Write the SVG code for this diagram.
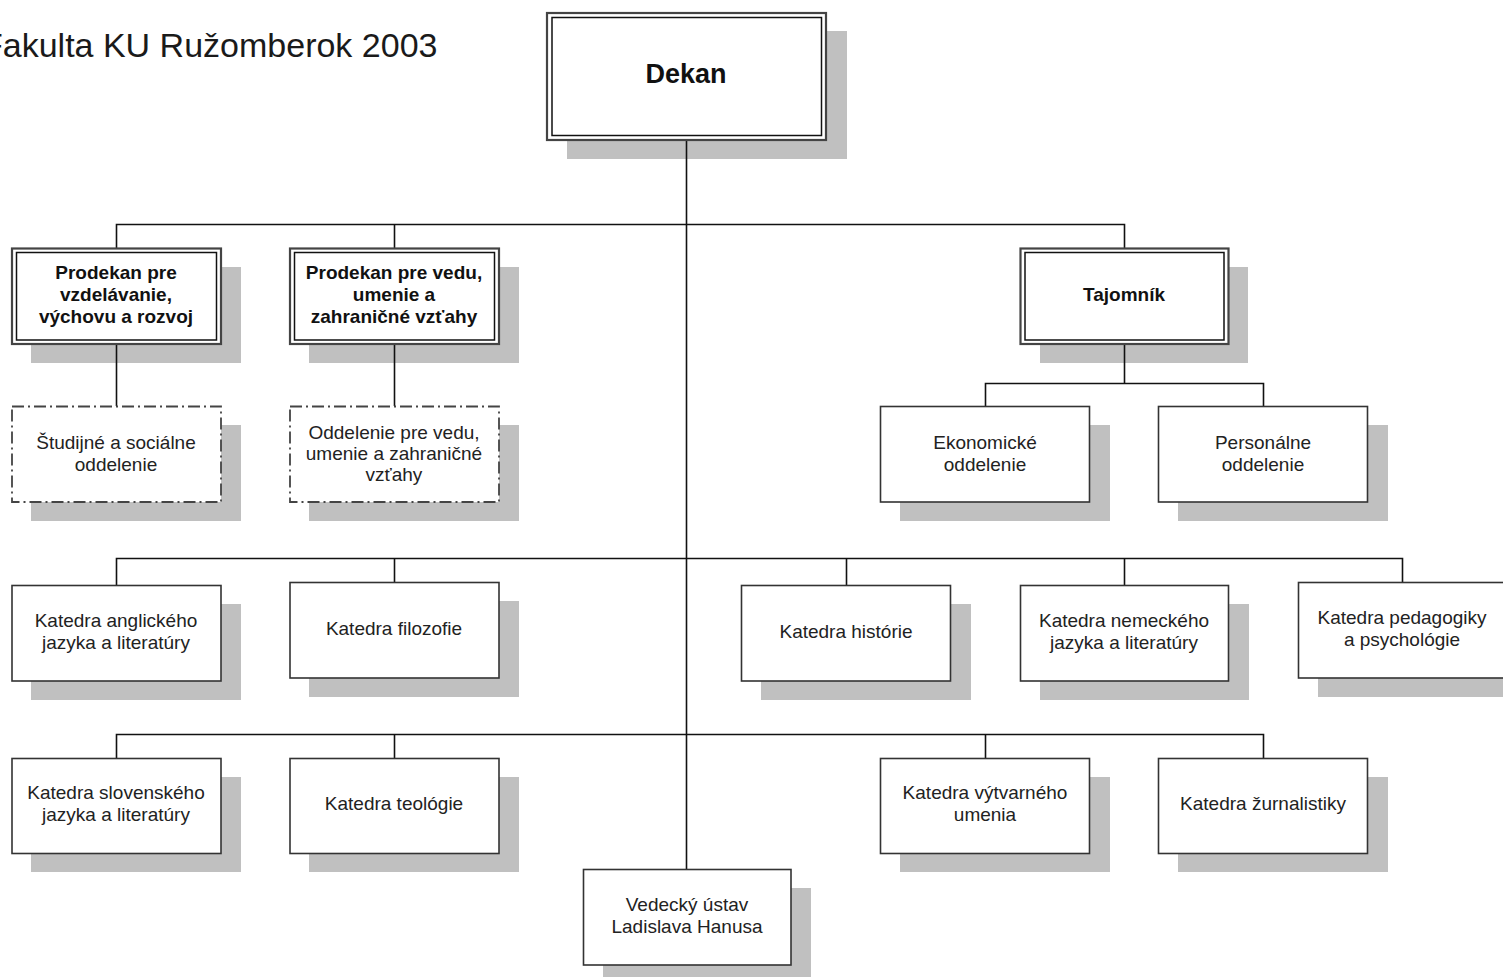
<svg xmlns="http://www.w3.org/2000/svg" width="1503" height="977" viewBox="0 0 1503 977">
<style>
.bg{fill:#ffffff}
.sh{fill:#c0c0c0}
.box{fill:#ffffff;stroke:#333333;stroke-width:1.6}
.outer{fill:#ffffff;stroke:#444444;stroke-width:2.2}
.inner{fill:none;stroke:#111111;stroke-width:1.5}
.dash{fill:#ffffff;stroke:#444444;stroke-width:1.8;stroke-dasharray:12,4,2,4}
.t{font-family:"Liberation Sans",Arial,sans-serif;font-size:19px;fill:#222222;text-anchor:middle}
.b{font-family:"Liberation Sans",Arial,sans-serif;font-size:19px;font-weight:bold;fill:#111111;text-anchor:middle}
.title{font-family:"Liberation Sans",Arial,sans-serif;font-size:34px;fill:#1a1a1a}
.c{fill:none;stroke:#111111;stroke-width:1.6}
</style>
<rect class="bg" x="0" y="0" width="1503" height="977"/>
<text class="title" x="-18" y="57">Fakulta KU Ružomberok 2003</text>

<g id="shadows">
<rect class="sh" x="567" y="31" width="280" height="128"/>
<rect class="sh" x="31" y="267" width="210" height="96"/>
<rect class="sh" x="309" y="267" width="210" height="96"/>
<rect class="sh" x="1040" y="267" width="208" height="96"/>
<rect class="sh" x="31" y="425" width="210" height="96"/>
<rect class="sh" x="309" y="425" width="210" height="96"/>
<rect class="sh" x="900" y="425" width="210" height="96"/>
<rect class="sh" x="1178" y="425" width="210" height="96"/>
<rect class="sh" x="31" y="604" width="210" height="96"/>
<rect class="sh" x="309" y="601" width="210" height="96"/>
<rect class="sh" x="761" y="604" width="210" height="96"/>
<rect class="sh" x="1040" y="604" width="209" height="96"/>
<rect class="sh" x="1318" y="601" width="209" height="96"/>
<rect class="sh" x="31" y="777" width="210" height="95"/>
<rect class="sh" x="309" y="777" width="210" height="95"/>
<rect class="sh" x="900" y="777" width="210" height="95"/>
<rect class="sh" x="1178" y="777" width="210" height="95"/>
<rect class="sh" x="603" y="888" width="208" height="96"/>
</g>

<g id="connectors">
<path class="c" d="M686.5,140 V869"/>
<path class="c" d="M116.5,248 V224.5 H1124.5 V248"/>
<path class="c" d="M394.5,224.5 V248"/>
<path class="c" d="M116.5,344 V406"/>
<path class="c" d="M394.5,344 V406"/>
<path class="c" d="M1124.5,344 V383.5"/>
<path class="c" d="M985.5,406 V383.5 H1263.5 V406"/>
<path class="c" d="M116.5,585 V558.5 H1402.5 V582"/>
<path class="c" d="M394.5,558.5 V582"/>
<path class="c" d="M846.5,558.5 V585"/>
<path class="c" d="M1124.5,558.5 V585"/>
<path class="c" d="M116.5,758 V734.5 H1263.5 V758"/>
<path class="c" d="M394.5,734.5 V758"/>
<path class="c" d="M985.5,734.5 V758"/>
</g>

<g id="dekan">
<rect class="outer" x="547" y="13" width="279" height="127"/>
<rect class="inner" x="552" y="17.5" width="269.5" height="118"/>
<text class="b" x="686" y="83" style="font-size:27px">Dekan</text>
</g>

<g id="prodekan1">
<rect class="outer" x="12" y="248.5" width="209" height="95.5"/>
<rect class="inner" x="16.5" y="252.5" width="200" height="87.5"/>
<text class="b" x="116" y="279">Prodekan pre</text>
<text class="b" x="116" y="301">vzdelávanie,</text>
<text class="b" x="116" y="323">výchovu a rozvoj</text>
</g>

<g id="prodekan2">
<rect class="outer" x="290" y="248.5" width="209" height="95.5"/>
<rect class="inner" x="294.5" y="252.5" width="200" height="87.5"/>
<text class="b" x="394" y="279">Prodekan pre vedu,</text>
<text class="b" x="394" y="301">umenie a</text>
<text class="b" x="394" y="323">zahraničné vzťahy</text>
</g>

<g id="tajomnik">
<rect class="outer" x="1020.5" y="248.5" width="208" height="95.5"/>
<rect class="inner" x="1025" y="252.5" width="199" height="87.5"/>
<text class="b" x="1124" y="301">Tajomník</text>
</g>

<g id="studijne">
<rect class="dash" x="12" y="406.5" width="209" height="95.5"/>
<text class="t" x="116" y="449">Študijné a sociálne</text>
<text class="t" x="116" y="471">oddelenie</text>
</g>

<g id="oddelenie-veda">
<rect class="dash" x="290" y="406.5" width="209" height="95.5"/>
<text class="t" x="394" y="439">Oddelenie pre vedu,</text>
<text class="t" x="394" y="460">umenie a zahraničné</text>
<text class="t" x="394" y="481">vzťahy</text>
</g>

<g id="ekonomicke">
<rect class="box" x="880.5" y="406.5" width="209" height="95.5"/>
<text class="t" x="985" y="449">Ekonomické</text>
<text class="t" x="985" y="471">oddelenie</text>
</g>

<g id="personalne">
<rect class="box" x="1158.5" y="406.5" width="209" height="95.5"/>
<text class="t" x="1263" y="449">Personálne</text>
<text class="t" x="1263" y="471">oddelenie</text>
</g>

<g id="k-anglickeho">
<rect class="box" x="12" y="585.5" width="209" height="95.5"/>
<text class="t" x="116" y="627">Katedra anglického</text>
<text class="t" x="116" y="649">jazyka a literatúry</text>
</g>

<g id="k-filozofie">
<rect class="box" x="290" y="582.5" width="209" height="95.5"/>
<text class="t" x="394" y="635">Katedra filozofie</text>
</g>

<g id="k-historie">
<rect class="box" x="741.5" y="585.5" width="209" height="95.5"/>
<text class="t" x="846" y="638">Katedra histórie</text>
</g>

<g id="k-nemeckeho">
<rect class="box" x="1020.5" y="585.5" width="208" height="95.5"/>
<text class="t" x="1124" y="627">Katedra nemeckého</text>
<text class="t" x="1124" y="649">jazyka a literatúry</text>
</g>

<g id="k-pedagogiky">
<rect class="box" x="1298.5" y="582.5" width="209" height="95.5"/>
<text class="t" x="1402" y="624">Katedra pedagogiky</text>
<text class="t" x="1402" y="646">a psychológie</text>
</g>

<g id="k-slovenskeho">
<rect class="box" x="12" y="758.5" width="209" height="95"/>
<text class="t" x="116" y="799">Katedra slovenského</text>
<text class="t" x="116" y="821">jazyka a literatúry</text>
</g>

<g id="k-teologie">
<rect class="box" x="290" y="758.5" width="209" height="95"/>
<text class="t" x="394" y="810">Katedra teológie</text>
</g>

<g id="k-vytvarneho">
<rect class="box" x="880.5" y="758.5" width="209" height="95"/>
<text class="t" x="985" y="799">Katedra výtvarného</text>
<text class="t" x="985" y="821">umenia</text>
</g>

<g id="k-zurnalistiky">
<rect class="box" x="1158.5" y="758.5" width="209" height="95"/>
<text class="t" x="1263" y="810">Katedra žurnalistiky</text>
</g>

<g id="vedecky-ustav">
<rect class="box" x="583.5" y="869.5" width="207.5" height="95.5"/>
<text class="t" x="687" y="911">Vedecký ústav</text>
<text class="t" x="687" y="933">Ladislava Hanusa</text>
</g>
</svg>
